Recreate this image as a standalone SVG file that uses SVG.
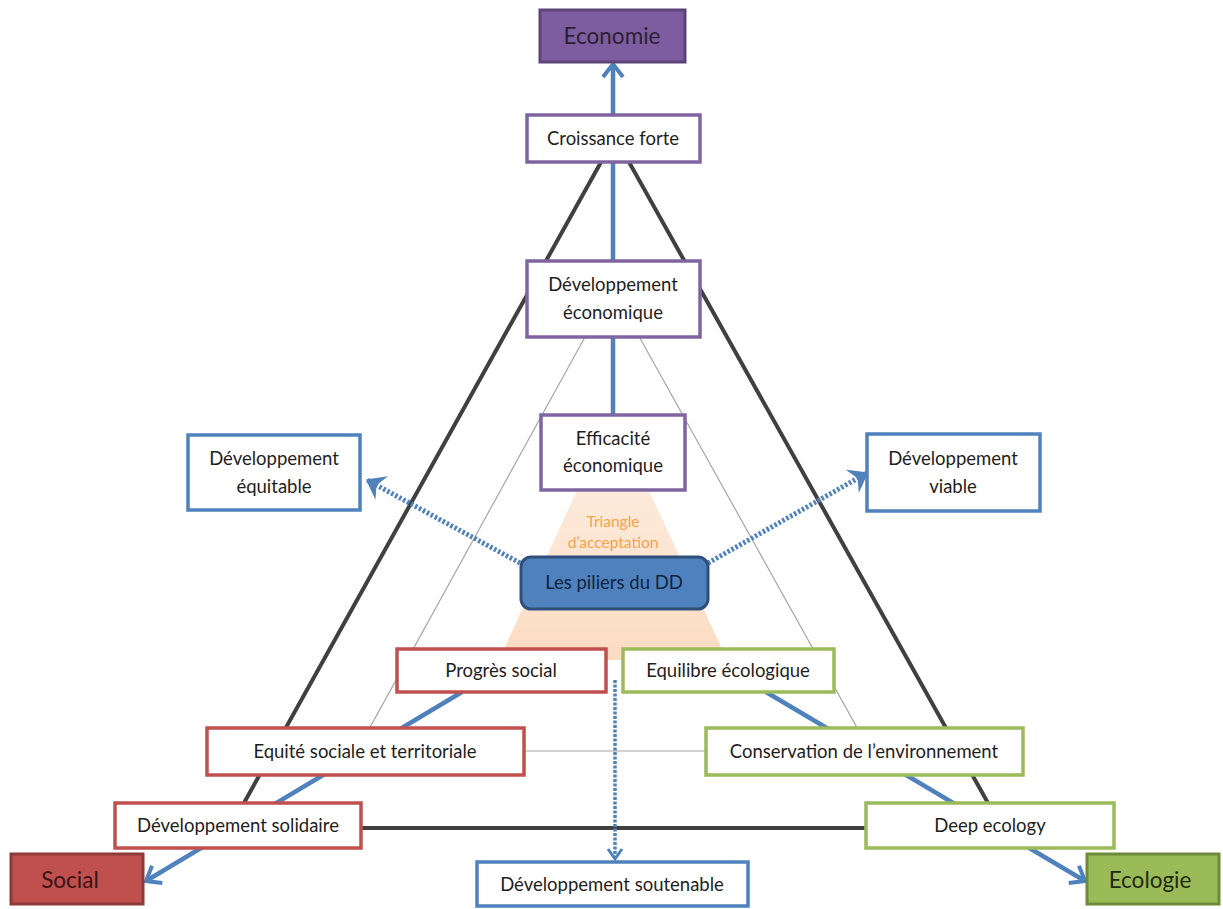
<svg xmlns="http://www.w3.org/2000/svg" width="1223" height="909" viewBox="0 0 1223 909">
<defs>
<style>
.t{font-family:Lato,"Open Sans","Liberation Sans",sans-serif;font-size:18.5px;fill:#1e1e1e;text-anchor:middle}
.big{font-size:22.5px;fill:#2a2233}
.box{fill:#ffffff;stroke-width:3.5}
.pur{stroke:#8064A2}
.red{stroke:#C0504D}
.grn{stroke:#9BBB59}
.blu{stroke:#4F81BD}
.thin{stroke:#a6a6a6;stroke-width:1.2;fill:none}
.blk{stroke:#404040;stroke-width:4;fill:none}
.axis{stroke:#4F81BD;stroke-width:4.5;fill:none}
.dot{stroke:#4F81BD;stroke-width:5;stroke-dasharray:2.5 2;fill:none}
.acc{font-family:Lato,"Open Sans","Liberation Sans",sans-serif;font-size:15.5px;fill:#F5A34C;text-anchor:middle}
</style>
<linearGradient id="peach" x1="0" y1="0" x2="0" y2="1">
<stop offset="0" stop-color="#FEF1E6"/>
<stop offset="1" stop-color="#FBDCC2"/>
</linearGradient>
<marker id="arr" markerUnits="userSpaceOnUse" markerWidth="30" markerHeight="30" viewBox="-16 -15 20 30" refX="0" refY="0" orient="auto">
<path d="M-13,-10 L0,0 L-13,10" fill="none" stroke="#4F81BD" stroke-width="4"/>
</marker>
<marker id="darr" markerUnits="userSpaceOnUse" markerWidth="34" markerHeight="34" viewBox="-18 -17 22 34" refX="0" refY="0" orient="auto">
<path d="M-15,-11 L0,0 L-15,11 L-10,0 Z" fill="#4F81BD" stroke="#4F81BD" stroke-width="1.5"/>
</marker>
<marker id="varr" markerUnits="userSpaceOnUse" markerWidth="24" markerHeight="24" viewBox="-12 -12 16 24" refX="0" refY="0" orient="auto">
<path d="M-10,-7 L0,0 L-10,7" fill="none" stroke="#4F81BD" stroke-width="3"/>
</marker>
</defs>

<g id="background">
<polygon points="613,412 499,660 727,660" fill="url(#peach)"/>
<text class="acc" x="613" y="527">Triangle</text>
<text class="acc" x="613" y="548">d’acceptation</text>
</g>

<g id="connectors">
<polygon class="thin" points="612,288 357,751 870,751"/>
<polygon class="blk" points="615,137 230,828 1002,828" stroke-linejoin="miter"/>
<line class="axis" x1="613" y1="415" x2="613" y2="64" marker-end="url(#arr)"/>
<line class="axis" x1="462" y1="692" x2="146" y2="881" marker-end="url(#arr)"/>
<line class="axis" x1="766" y1="692" x2="1085" y2="881" marker-end="url(#arr)"/>
<line class="dot" x1="520" y1="563" x2="367" y2="480" marker-end="url(#darr)"/>
<line class="dot" x1="708" y1="563" x2="867" y2="473" marker-end="url(#darr)"/>
<line x1="615" y1="680" x2="615" y2="859" stroke="#4F81BD" stroke-width="3.5" stroke-dasharray="3 1.5" marker-end="url(#varr)"/>
</g>

<g id="economie">
<rect x="540" y="10" width="145" height="52" fill="#7D5C9F" stroke="#5C4378" stroke-width="3"/>
<text class="t big" x="612" y="44">Economie</text>
</g>
<g id="croissance-forte">
<rect class="box pur" x="527" y="115" width="173" height="47"/>
<text class="t" x="613" y="145">Croissance forte</text>
</g>
<g id="developpement-economique">
<rect class="box pur" x="527" y="261" width="173" height="76"/>
<text class="t" x="613" y="291">Développement</text>
<text class="t" x="613" y="319">économique</text>
</g>
<g id="efficacite-economique">
<rect class="box pur" x="541" y="415" width="144" height="75"/>
<text class="t" x="613" y="445">Efficacité</text>
<text class="t" x="613" y="472">économique</text>
</g>
<g id="developpement-equitable">
<rect class="box blu" x="188" y="435" width="172" height="75"/>
<text class="t" x="274" y="465">Développement</text>
<text class="t" x="274" y="493">équitable</text>
</g>
<g id="developpement-viable">
<rect class="box blu" x="867" y="434" width="173" height="77"/>
<text class="t" x="953" y="465">Développement</text>
<text class="t" x="953" y="493">viable</text>
</g>
<g id="piliers">
<rect x="521" y="557" width="187" height="52" rx="10" fill="#4F81BD" stroke="#2F4F7A" stroke-width="3"/>
<text class="t" x="614" y="589" style="fill:#10243f">Les piliers du DD</text>
</g>
<g id="progres-social">
<rect class="box red" x="397" y="649" width="209" height="43"/>
<text class="t" x="501" y="677">Progrès social</text>
</g>
<g id="equilibre-ecologique">
<rect class="box grn" x="623" y="649" width="211" height="43"/>
<text class="t" x="728" y="677">Equilibre écologique</text>
</g>
<g id="equite-sociale">
<rect class="box red" x="207" y="728" width="317" height="47"/>
<text class="t" x="365" y="758">Equité sociale et territoriale</text>
</g>
<g id="conservation">
<rect class="box grn" x="706" y="728" width="317" height="47"/>
<text class="t" x="864" y="758">Conservation de l’environnement</text>
</g>
<g id="developpement-solidaire">
<rect class="box red" x="115" y="803" width="246" height="45"/>
<text class="t" x="238" y="832">Développement solidaire</text>
</g>
<g id="deep-ecology">
<rect class="box grn" x="866" y="803" width="248" height="45"/>
<text class="t" x="990" y="832">Deep ecology</text>
</g>
<g id="developpement-soutenable">
<rect class="box blu" x="477" y="862" width="271" height="44"/>
<text class="t" x="612" y="891">Développement soutenable</text>
</g>
<g id="social">
<rect x="11" y="854" width="132" height="50" fill="#C0504D" stroke="#8E3A38" stroke-width="3"/>
<text class="t big" x="70" y="888" style="fill:#3a1414">Social</text>
</g>
<g id="ecologie">
<rect x="1087" y="854" width="132" height="50" fill="#9BBB59" stroke="#6F8A3C" stroke-width="3"/>
<text class="t big" x="1150" y="888" style="fill:#1f2a10">Ecologie</text>
</g>
</svg>
